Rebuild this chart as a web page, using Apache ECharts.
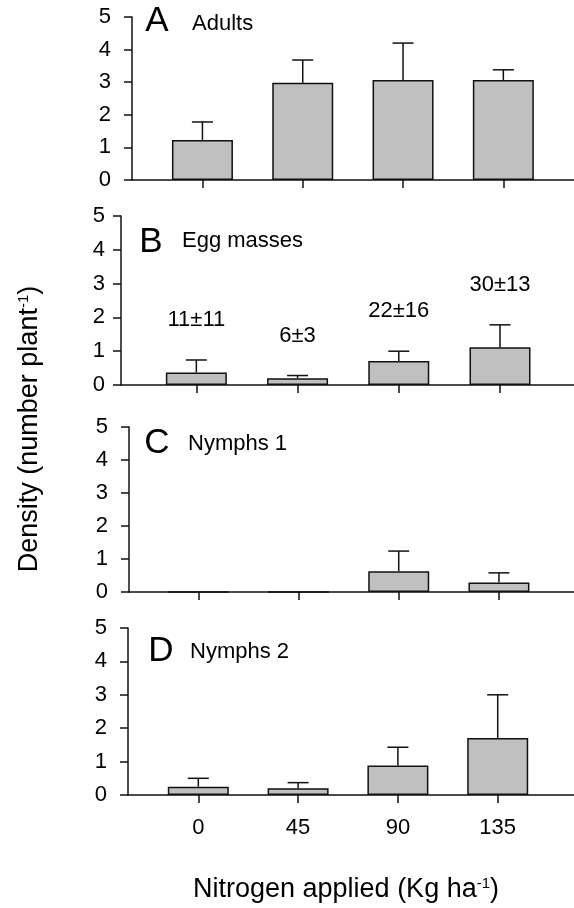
<!DOCTYPE html>
<html style="height: 100%">
<head>
<meta charset="utf-8">
</head>
<body style="height: 100%; margin: 0; background: #fff">
<div id="container" style="height: 908px; width: 574px;"></div>
<script type="text/javascript" src="https://cdn.jsdelivr.net/npm/echarts@6/dist/echarts.min.js"></script>
<script type="text/javascript">

// nitrogen rates (Kg/ha)
var nitrogen = [0, 45, 90, 135];

// mean densities and standard errors, per panel
var adultsMean = [1.23, 2.98, 3.07, 3.07];
var adultsSE = [0.55, 0.70, 1.13, 0.31];

var eggMean = [0.37, 0.20, 0.71, 1.12];
var eggSE = [0.37, 0.08, 0.29, 0.66];
var eggCounts = ['11±11', '6±3', '22±16', '30±13'];

var nymph1Mean = [0, 0, 0.63, 0.29];
var nymph1SE = [0, 0, 0.61, 0.29];

var nymph2Mean = [0.25, 0.20, 0.88, 1.71];
var nymph2SE = [0.25, 0.17, 0.55, 1.29];

var yTicks = [0, 1, 2, 3, 4, 5];

var panelLetters = ['A', 'B', 'C', 'D'];
var panelNames = ['Adults', 'Egg masses', 'Nymphs 1', 'Nymphs 2'];

var dom = document.getElementById("container");
var myChart = echarts.init(dom);
var font = '"Liberation Sans", Arial, sans-serif';

// grid placement per panel (pixels) and x range so that 0..135 sits under the bars
var panels = [
    {left: 132, top: 17, height: 163, xMin: -31.6, xMax: 166.7, width: 448, lm: 21},
    {left: 121, top: 216, height: 169, xMin: -33.5, xMax: 167.9, width: 459, lm: 16},
    {left: 129, top: 427, height: 165, xMin: -31.1, xMax: 168.7, width: 451, lm: 21},
    {left: 128, top: 628, height: 167, xMin: -31.7, xMax: 169.4, width: 452, lm: 21}
];
var means = [adultsMean, eggMean, nymph1Mean, nymph2Mean];
var ses = [adultsSE, eggSE, nymph1SE, nymph2SE];
var labels = [null, eggCounts, null, null];

function errRender(lab) {
    return function (params, api) {
        var x = api.value(0), m = api.value(1), s = api.value(2);
        var base = api.coord([x, m]);
        var top = api.coord([x, m + s]);
        var kids = [];
        var st = {stroke: '#111', lineWidth: 1.5};
        if (s > 0) {
            kids.push({type: 'line', shape: {x1: base[0], y1: base[1], x2: top[0], y2: top[1]}, style: st});
            kids.push({type: 'line', shape: {x1: top[0] - 10.5, y1: top[1], x2: top[0] + 10.5, y2: top[1]}, style: st});
        }
        if (lab) {
            kids.push({type: 'text', x: top[0], y: top[1] - 40, style: {
                text: lab[params.dataIndex], fontSize: 22, fontFamily: font, fill: '#000',
                align: 'center', verticalAlign: 'middle'}});
        }
        return {type: 'group', children: kids};
    };
}

var grid = [], xAxis = [], yAxis = [], series = [];
for (var i = 0; i < 4; i++) {
    var p = panels[i];
    grid.push({left: p.left, top: p.top, width: p.width, height: p.height});
    xAxis.push({
        type: 'value', gridIndex: i, min: p.xMin, max: p.xMax,
        splitLine: {show: false},
        axisLine: {show: true, onZero: false, lineStyle: {color: '#111', width: 1.5}},
        axisTick: {show: true, customValues: nitrogen, length: 8, lineStyle: {color: '#111', width: 1.5}},
        axisLabel: {show: i === 3, customValues: nitrogen, margin: 22, fontSize: 22, fontFamily: font, color: '#000'}
    });
    yAxis.push({
        type: 'value', gridIndex: i, min: 0, max: 5, interval: 1,
        splitLine: {show: false},
        axisLine: {show: true, onZero: false, lineStyle: {color: '#111', width: 1.5}},
        axisTick: {show: true, length: 8, lineStyle: {color: '#111', width: 1.5}},
        axisLabel: {margin: p.lm, fontSize: 22, fontFamily: font, color: '#000',
            formatter: function (v) { return yTicks.indexOf(v) >= 0 ? String(v) : ''; }}
    });
    var bars = [], errs = [];
    for (var j = 0; j < nitrogen.length; j++) {
        bars.push([nitrogen[j], means[i][j]]);
        errs.push([nitrogen[j], means[i][j], ses[i][j]]);
    }
    series.push({
        type: 'bar', xAxisIndex: i, yAxisIndex: i, barWidth: 61, data: bars,
        itemStyle: {color: '#c0c0c0', borderColor: '#111', borderWidth: 1.5},
        silent: true, z: 3
    });
    series.push({
        type: 'custom', xAxisIndex: i, yAxisIndex: i, data: errs,
        encode: {x: 0, y: 1}, renderItem: errRender(labels[i]), silent: true, z: 2
    });
}

// panel letters and names
var letterPos = [[157, 21], [151, 242], [157, 443], [161, 651]];
var namePos = [[192, 24], [182, 241], [188, 444], [190, 652]];
var graphic = [];
for (var k = 0; k < 4; k++) {
    graphic.push({type: 'text', x: letterPos[k][0], y: letterPos[k][1],
        style: {text: panelLetters[k], fontSize: 35, fontFamily: font, fill: '#000', align: 'center', verticalAlign: 'middle'}});
    graphic.push({type: 'text', x: namePos[k][0], y: namePos[k][1],
        style: {text: panelNames[k], fontSize: 22, fontFamily: font, fill: '#000', align: 'left', verticalAlign: 'middle'}});
}
graphic.push({type: 'text', x: 30, y: 429, rotation: Math.PI / 2,
    style: {text: 'Density (number plant{sup|-1})', fontSize: 27, fontFamily: font, fill: '#000',
        align: 'center', verticalAlign: 'middle',
        rich: {sup: {fontSize: 15, fontFamily: font, fill: '#000', padding: [0, 0, 13, 0]}}}});
graphic.push({type: 'text', x: 346, y: 890,
    style: {text: 'Nitrogen applied (Kg ha{sup|-1})', fontSize: 27, fontFamily: font, fill: '#000',
        align: 'center', verticalAlign: 'middle',
        rich: {sup: {fontSize: 15, fontFamily: font, fill: '#000', padding: [0, 0, 13, 0]}}}});

var option = {
    animation: false,
    backgroundColor: '#fff',
    grid: grid,
    xAxis: xAxis,
    yAxis: yAxis,
    series: series,
    graphic: graphic
};

if (option && typeof option === "object") {
    myChart.setOption(option, true);
}
</script>
</body>
</html>
